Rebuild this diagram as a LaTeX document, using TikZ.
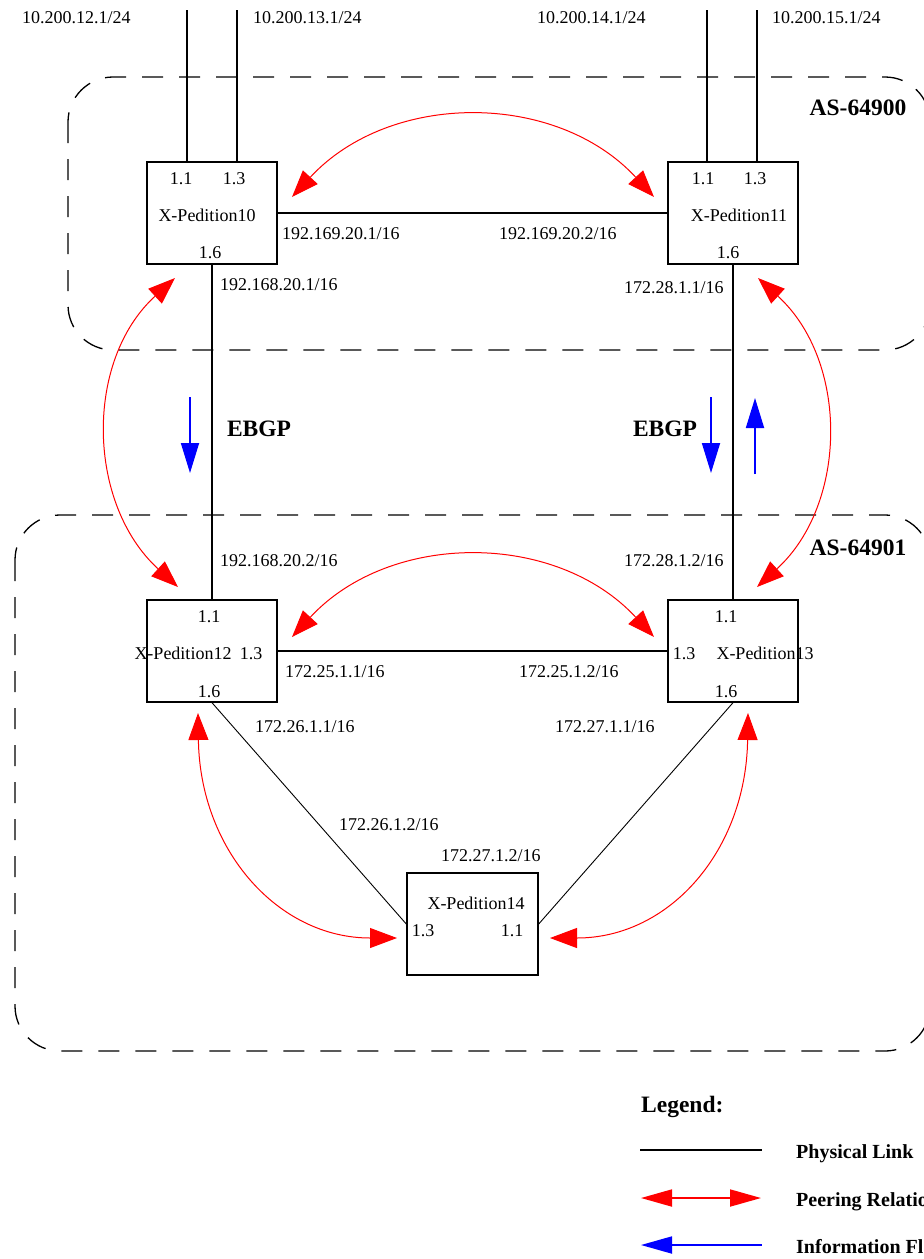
\documentclass[tikz,border=0pt]{standalone}
\usepackage{fontspec}
\setmainfont{Liberation Serif}
\usetikzlibrary{arrows.meta,positioning,calc}

\begin{document}
\begin{tikzpicture}[x=1pt,y=-1pt,
  router/.style={draw,line width=1.4pt,minimum width=130pt,minimum height=102pt,inner sep=0pt},
  lbl/.style={inner sep=0pt,text height=12pt,text depth=0pt,font=\fontsize{18}{20}\selectfont},
  big/.style={inner sep=0pt,text height=15.5pt,text depth=0pt,font=\fontsize{23.5}{26}\selectfont\bfseries},
  key/.style={inner sep=0pt,anchor=west,text height=13.2pt,text depth=0pt,font=\fontsize{20}{22}\selectfont\bfseries},
  link/.style={line width=1.5pt},
  thinlink/.style={line width=0.9pt},
  asbox/.style={line width=1.3pt,dash pattern=on 21pt off 16pt,rounded corners=45pt},
  peer/.style={red,line width=1pt,>={Triangle[length=27pt,width=20pt]},<->},
  flow/.style={blue,line width=1.8pt,>={Triangle[length=30pt,width=18pt]},->}]

\useasboundingbox (0,0) rectangle (924,1259);
\clip (0,0) rectangle (924,1259);

\draw[asbox] (68,77) rectangle (930,350);
\draw[asbox] (15,515) rectangle (930,1051);
\node[big] (as0) at (858,108) {AS-64900};
\node[big] (as1) at (858,548) {AS-64901};

\node[router] (r10) at (212,213) {};
\node[router] (r11) at (733,213) {};
\node[router] (r12) at (212,651) {};
\node[router] (r13) at (733,651) {};
\node[router,minimum width=131pt] (r14) at (472.5,924) {};

\node[lbl] (r10a) at (181,178) {1.1};
\node[lbl] (r10b) at (234,178) {1.3};
\node[lbl] (r10n) at (207,215) {X-Pedition10};
\node[lbl] (r10c) at (210,252) {1.6};

\node[lbl] (r11a) at (703,178) {1.1};
\node[lbl] (r11b) at (755,178) {1.3};
\node[lbl] (r11n) at (739,215) {X-Pedition11};
\node[lbl] (r11c) at (728,252) {1.6};

\node[lbl] (r12a) at (209,616) {1.1};
\node[lbl] (r12n) at (183,653) {X-Pedition12};
\node[lbl] (r12b) at (251,653) {1.3};
\node[lbl] (r12c) at (209,691) {1.6};

\node[lbl] (r13a) at (726,616) {1.1};
\node[lbl] (r13b) at (684,653) {1.3};
\node[lbl] (r13n) at (765,653) {X-Pedition13};
\node[lbl] (r13c) at (726,691) {1.6};

\node[lbl] (r14n) at (476,903) {X-Pedition14};
\node[lbl] (r14b) at (423,930) {1.3};
\node[lbl] (r14a) at (512,930) {1.1};

\coordinate (n12) at (187,10);
\coordinate (n13) at (237,10);
\coordinate (n14) at (707,10);
\coordinate (n15) at (757,10);
\draw[link] (n12) -- (n12 |- r10.north);
\draw[link] (n13) -- (n13 |- r10.north);
\draw[link] (n14) -- (n14 |- r11.north);
\draw[link] (n15) -- (n15 |- r11.north);
\node[lbl,anchor=west] (net12) at (22,17) {10.200.12.1/24};
\node[lbl,anchor=west] (net13) at (253,17) {10.200.13.1/24};
\node[lbl,anchor=west] (net14) at (537,17) {10.200.14.1/24};
\node[lbl,anchor=west] (net15) at (772,17) {10.200.15.1/24};

\draw[link] (r10) -- (r11);
\draw[link] (r10) -- (r12);
\draw[link] (r11) -- (r13);
\draw[link] (r12) -- (r13);
\draw[thinlink] (r12.south) -- (r14.west);
\draw[thinlink] (r13.south) -- (r14.east);

\node[lbl,anchor=west] (ip1) at (282,233) {192.169.20.1/16};
\node[lbl,anchor=west] (ip2) at (499,233) {192.169.20.2/16};
\node[lbl,anchor=west] (ip3) at (220,284) {192.168.20.1/16};
\node[lbl,anchor=west] (ip4) at (624,287) {172.28.1.1/16};
\node[lbl,anchor=west] (ip5) at (220,560) {192.168.20.2/16};
\node[lbl,anchor=west] (ip6) at (624,560) {172.28.1.2/16};
\node[lbl,anchor=west] (ip7) at (285,671) {172.25.1.1/16};
\node[lbl,anchor=west] (ip8) at (519,671) {172.25.1.2/16};
\node[lbl,anchor=west] (ip9) at (255,726) {172.26.1.1/16};
\node[lbl,anchor=west] (ip10) at (555,726) {172.27.1.1/16};
\node[lbl,anchor=west] (ip11) at (339,824) {172.26.1.2/16};
\node[lbl,anchor=west] (ip12) at (441,855) {172.27.1.2/16};

\node[big] (ebgp1) at (259,429) {EBGP};
\node[big] (ebgp2) at (665,429) {EBGP};

\coordinate (f1a) at (190,397);
\coordinate (f1b) at (190,473);
\coordinate (f2a) at (711,397);
\coordinate (f2b) at (711,473);
\coordinate (f3a) at (755,474);
\coordinate (f3b) at (755,398);
\draw[flow] (f1a) -- (f1b);
\draw[flow] (f2a) -- (f2b);
\draw[flow] (f3a) -- (f3b);

\coordinate (p10r) at (292,197);
\coordinate (p11l) at (654,197);
\coordinate (p10d) at (175,278);
\coordinate (p12u) at (178,587);
\coordinate (p11d) at (758,278);
\coordinate (p13u) at (757,587);
\coordinate (p12r) at (292,637);
\coordinate (p13l) at (654,637);
\coordinate (p12d) at (198,713);
\coordinate (p14l) at (397,938);
\coordinate (p13d) at (748,713);
\coordinate (p14r) at (550,938);
\draw[peer] (p10r) .. controls (390,91) and (556,91) .. (p11l);
\draw[peer] (p10d) .. controls (84,361) and (87,504) .. (p12u);
\draw[peer] (p11d) .. controls (849,361) and (848,504) .. (p13u);
\draw[peer] (p12r) .. controls (390,531) and (556,531) .. (p13l);
\draw[peer] (p12d) .. controls (200,850) and (278,938) .. (p14l);
\draw[peer] (p13d) .. controls (746,850) and (670,938) .. (p14r);

\node[big,anchor=west] (leg) at (641,1105) {Legend:};
\coordinate (k1a) at (640,1150);
\coordinate (k1b) at (762,1150);
\coordinate (k2a) at (641,1198);
\coordinate (k2b) at (761,1198);
\coordinate (k3a) at (641,1245);
\coordinate (k3b) at (762,1245);
\draw[line width=2pt] (k1a) -- (k1b);
\draw[red,line width=1.8pt,>={Triangle[length=31pt,width=17pt]},<->] (k2a) -- (k2b);
\draw[blue,line width=1.8pt,>={Triangle[length=31pt,width=17pt]},<-] (k3a) -- (k3b);
\node[key] (k1) at (796,1152) {Physical Link};
\node[key] (k2) at (796,1200) {Peering Relationship};
\node[key] (k3) at (796,1247) {Information Flow};

\end{tikzpicture}
\end{document}
